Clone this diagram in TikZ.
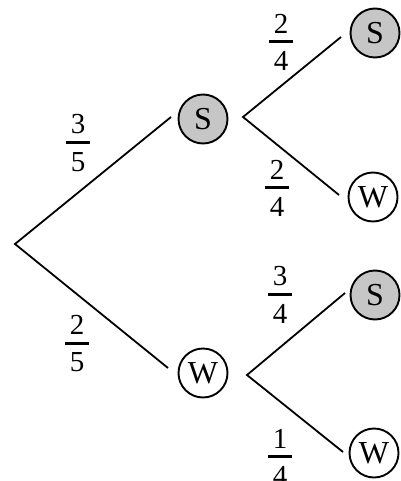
\documentclass[tikz,border=0pt]{standalone}
\usepackage{fontspec}
\setmainfont{Liberation Serif}
\newcommand{\pfrac}[2]{\vbox{\offinterlineskip\halign{\hfil##\hfil\cr
  \kern4.5pt#1\kern4.5pt\cr\noalign{\kern7pt\hrule height 3pt\kern8pt}
  \kern4.5pt#2\kern4.5pt\cr}}}
\begin{document}
\begin{tikzpicture}[x=1pt,y=-1pt,
  every node/.style={font=\fontsize{29}{35}\selectfont},
  outcome/.style={circle,draw,line width=1.9pt,minimum size=49pt,inner sep=0pt,
    font=\fontsize{32}{38}\selectfont},
  sun/.style={outcome,fill=gray!45},
  rain/.style={outcome,fill=white},
  branch/.style={line width=1.8pt},
  prob/.style={inner sep=0pt}]
\useasboundingbox (0,0) rectangle (400,481);
% nodes
\coordinate (root) at (15,244);
\node[sun]  (S1) at (203,119) {S};
\node[rain] (W1) at (203,373) {W};
\node[sun]  (SS) at (375,33)  {S};
\node[rain] (SW) at (373,197) {W};
\node[sun]  (WS) at (375,295) {S};
\node[rain] (WW) at (374,453) {W};
% connector end points
\coordinate (S1in)  at (171,117);
\coordinate (W1in)  at (168,368);
\coordinate (S1out) at (243,117);
\coordinate (W1out) at (247,375);
\coordinate (SSin)  at (341,37);
\coordinate (SWin)  at (339,195);
\coordinate (WSin)  at (345,293);
\coordinate (WWin)  at (343,452);
% branches
\draw[branch] (S1in) -- (root) -- (W1in);
\draw[branch] (SSin) -- (S1out) -- (SWin);
\draw[branch] (WSin) -- (W1out) -- (WWin);
% probabilities
\node[prob] (p1) at (78,143)  {\pfrac{3}{5}};
\node[prob] (p2) at (77,344)  {\pfrac{2}{5}};
\node[prob] (p3) at (281,42)  {\pfrac{2}{4}};
\node[prob] (p4) at (277,188) {\pfrac{2}{4}};
\node[prob] (p5) at (280,295) {\pfrac{3}{4}};
\node[prob] (p6) at (280,457) {\pfrac{1}{4}};
\end{tikzpicture}
\end{document}
